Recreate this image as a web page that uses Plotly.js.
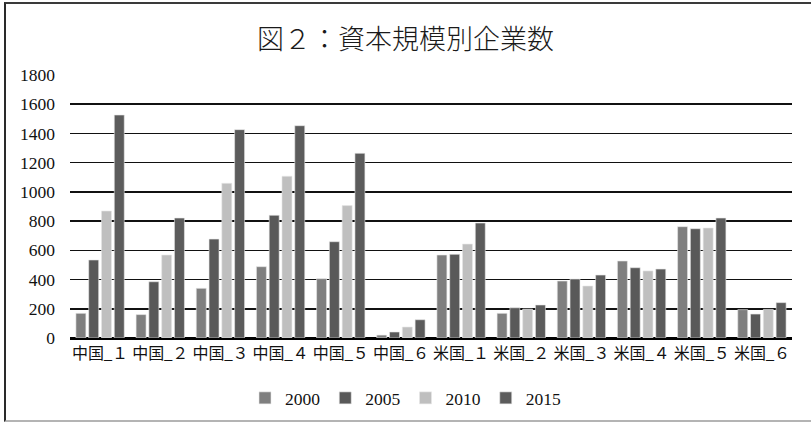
<!DOCTYPE html>
<html>
<head>
<meta charset="utf-8">
<script src="https://cdn.plot.ly/plotly-3.0.1.min.js"></script>
<style>
  html, body { margin: 0; padding: 0; background: #ffffff; }
  #wrap { position: relative; width: 811px; height: 426px; overflow: hidden; }
  #chart { position: absolute; left: 0; top: 0; width: 811px; height: 426px; }
  #frame {
    position: absolute; left: 4px; top: 2px; width: 812px; height: 420px;
    border-left: 2px solid #2a2a2a; border-top: 2px solid #3a3a3a;
    border-bottom: 2px solid #b4b4b4; pointer-events: none; box-sizing: border-box;
  }
</style>
</head>
<body>
<div id="wrap">
  <div id="chart"></div>
  <div id="frame"></div>
</div>
<script>
// Number of firms by capital size, China vs. US
const categories = ['中国_１', '中国_２', '中国_３', '中国_４', '中国_５', '中国_６',
                    '米国_１', '米国_２', '米国_３', '米国_４', '米国_５', '米国_６'];
const years = ['2000', '2005', '2010', '2015'];
const v2000 = [169, 160, 340, 488, 406, 20, 568, 169, 390, 527, 762, 194];
const v2005 = [534, 385, 677, 840, 659, 41, 573, 207, 404, 481, 748, 164];
const v2010 = [869, 568, 1059, 1107, 906, 75, 643, 198, 356, 459, 753, 196];
const v2015 = [1526, 821, 1426, 1453, 1264, 125, 787, 226, 431, 472, 821, 242];
const seriesValues = [v2000, v2005, v2010, v2015];
const seriesColors = ['#7f7f7f', '#595959', '#bfbfbf', '#5c5c5c'];

const serif = "'Liberation Serif', 'DejaVu Serif', 'Noto Sans CJK JP', serif";

const traces = years.map((yr, i) => ({
  type: 'bar',
  name: yr,
  x: categories,
  y: seriesValues[i],
  marker: { color: seriesColors[i], line: { color: '#e8e8e8', width: 0.6 } },
  hoverinfo: 'x+y+name'
}));

const layout = {
  width: 811,
  height: 426,
  paper_bgcolor: '#ffffff',
  plot_bgcolor: '#ffffff',
  margin: { l: 70, r: 19, t: 75, b: 88 },
  font: { family: serif, color: '#111111', size: 17 },
  title: {
    text: '図２：資本規模別企業数',
    font: { family: serif, size: 27, color: '#1a1a1a', weight: 300 },
    x: 0.5, xref: 'container', xanchor: 'center',
    y: 1 - 40 / 426, yref: 'container', yanchor: 'middle'
  },
  barmode: 'group',
  bargap: 0.15,
  bargroupgap: 0.22,
  xaxis: {
    type: 'category',
    showgrid: false,
    showline: false,
    ticks: '',
    tickfont: { family: serif, size: 16, color: '#111111' },
    ticklabelstandoff: 4
  },
  yaxis: {
    range: [0, 1800],
    dtick: 200,
    tick0: 0,
    showgrid: true,
    gridcolor: '#111111',
    gridwidth: 1.6,
    zeroline: true,
    zerolinecolor: '#000000',
    zerolinewidth: 3,
    showline: false,
    ticks: '',
    tickfont: { family: serif, size: 17.5, color: '#111111' },
    ticklabelstandoff: 14
  },
  showlegend: true,
  legend: {
    orientation: 'h',
    x: 0.5, xref: 'container', xanchor: 'center',
    y: 1 - 398 / 426, yref: 'container', yanchor: 'middle',
    font: { family: serif, size: 17.5, color: '#111111' },
    itemwidth: 30,
    tracegroupgap: 0,
    traceorder: 'normal'
  }
};

Plotly.newPlot('chart', traces, layout, { displayModeBar: false, staticPlot: true });
</script>
</body>
</html>
